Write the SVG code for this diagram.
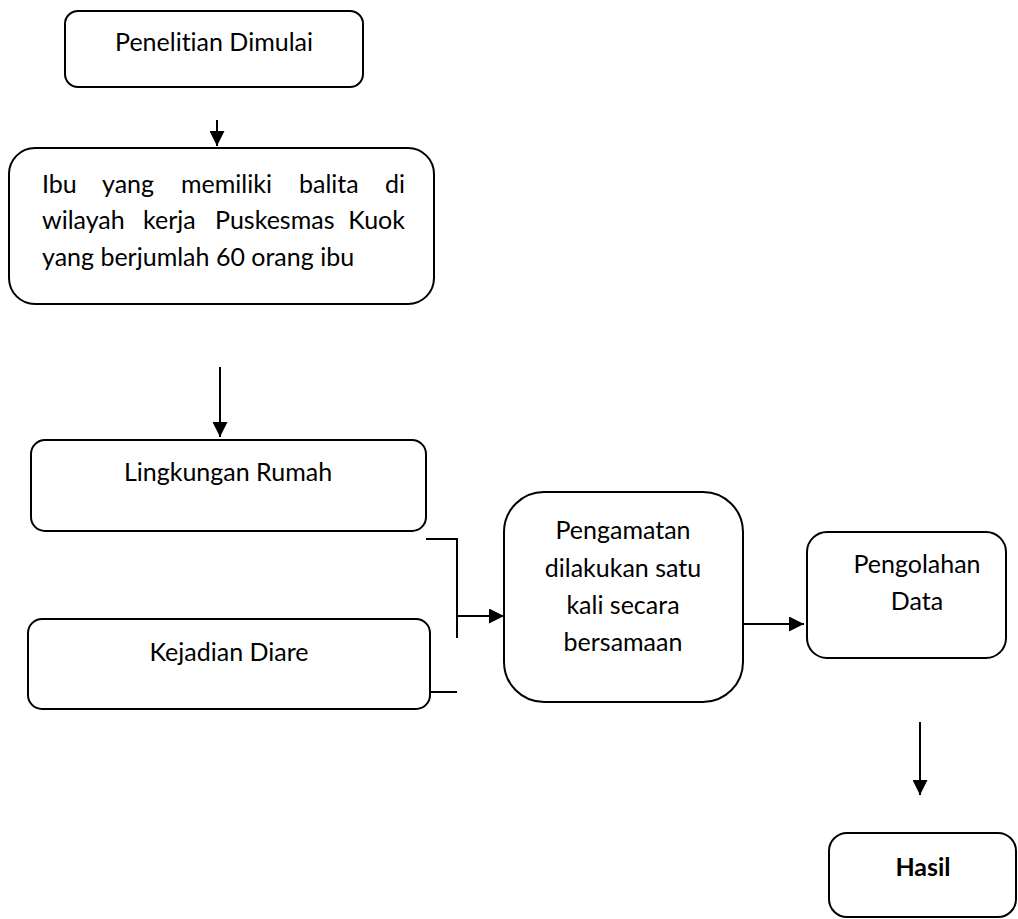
<svg xmlns="http://www.w3.org/2000/svg" width="1018" height="919" viewBox="0 0 1018 919">
<style>
.box{fill:#fff;stroke:#000;stroke-width:2}
text{font-family:Lato,"Open Sans","Liberation Sans",sans-serif;font-size:25px;fill:#000;font-variant-ligatures:none}
.c{text-anchor:middle}
.e{text-anchor:end}
.ln{stroke:#000;stroke-width:2;fill:none}
</style>
<defs>
<marker id="ah2" markerWidth="15" markerHeight="15" refX="15" refY="7.5" orient="auto" markerUnits="userSpaceOnUse" viewBox="0 0 15 15">
<path d="M0,0 L15,7.5 L0,15 Z" fill="#000"/>
</marker>
</defs>
<g id="n1">
<rect class="box" x="65" y="11" width="298" height="76" rx="13"/>
<text class="c" x="214" y="51">Penelitian Dimulai</text>
</g>
<g id="n2">
<rect class="box" x="9" y="148" width="425" height="156" rx="26"/>
<text x="42" y="193">Ibu</text>
<text x="102" y="193">yang</text>
<text x="181" y="193">memiliki</text>
<text x="299" y="193">balita</text>
<text class="e" x="405" y="193">di</text>
<text x="42" y="229">wilayah</text>
<text x="143" y="229">kerja</text>
<text x="215" y="229">Puskesmas</text>
<text class="e" x="405" y="229">Kuok</text>
<text x="42" y="266">yang berjumlah 60 orang ibu</text>
</g>
<g id="n3">
<rect class="box" x="31" y="440" width="395" height="91" rx="14"/>
<text class="c" x="228" y="481">Lingkungan Rumah</text>
</g>
<g id="n4">
<rect class="box" x="28" y="619" width="402" height="90" rx="14"/>
<text class="c" x="229" y="661">Kejadian Diare</text>
</g>
<g id="n5">
<rect class="box" x="504" y="492" width="239" height="210" rx="40"/>
<text class="c" x="623" y="539">Pengamatan</text>
<text class="c" x="623" y="577">dilakukan satu</text>
<text class="c" x="623" y="614">kali secara</text>
<text class="c" x="623" y="651">bersamaan</text>
</g>
<g id="n6">
<rect class="box" x="807" y="532" width="199" height="126" rx="20"/>
<text class="c" x="917" y="573">Pengolahan</text>
<text class="c" x="917" y="610">Data</text>
</g>
<g id="n7">
<rect class="box" x="829" y="833" width="187" height="84" rx="18"/>
<text class="c" x="923" y="876" font-weight="bold">Hasil</text>
</g>
<g id="connectors">
<line class="ln" x1="217" y1="120" x2="217" y2="146" marker-end="url(#ah2)"/>
<line class="ln" x1="220" y1="367" x2="220" y2="437" marker-end="url(#ah2)"/>
<polyline class="ln" points="426,539 457,539 457,638"/>
<line class="ln" x1="430" y1="692" x2="457" y2="692"/>
<line class="ln" x1="457" y1="616" x2="504" y2="616" marker-end="url(#ah2)"/>
<line class="ln" x1="743" y1="624" x2="804" y2="624" marker-end="url(#ah2)"/>
<line class="ln" x1="920" y1="722" x2="920" y2="795" marker-end="url(#ah2)"/>
</g>
</svg>
